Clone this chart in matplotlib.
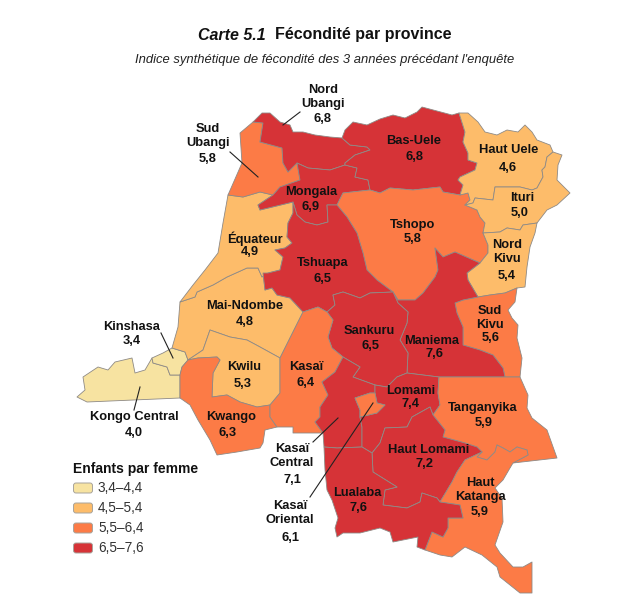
"""Carte 5.1: fecondite par province (RDC), provinces drawn as filled outlines."""

import matplotlib
matplotlib.use("Agg")
import matplotlib.pyplot as plt
from matplotlib.patches import FancyBboxPatch

plt.rcParams["font.family"] = ["Liberation Sans", "DejaVu Sans"]

# Fertility value per province
provinces = ["Kongo Central", "Kinshasa", "Mai-Ndombe", "Kwilu", "Kwango", "Équateur",
             "Sud Ubangi", "Nord Ubangi", "Mongala", "Bas-Uele", "Tshopo", "Tshuapa",
             "Haut Uele", "Ituri", "Nord Kivu", "Sud Kivu", "Maniema", "Sankuru",
             "Kasaï", "Kasaï Central", "Lomami", "Kasaï Oriental", "Tanganyika",
             "Haut Lomami", "Haut Katanga", "Lualaba"]
values = [4.0, 3.4, 4.8, 5.3, 6.3, 4.9,
          5.8, 6.8, 6.9, 6.8, 5.8, 6.5,
          4.6, 5.0, 5.4, 5.6, 7.6, 6.5,
          6.4, 7.1, 7.4, 6.1, 5.9,
          7.2, 5.9, 7.6]

# Legend classes
class_uppers = [4.4, 5.4, 6.4, 7.6]
class_labels = ["3,4–4,4", "4,5–5,4", "5,5–6,4", "6,5–7,6"]
class_colors = ["#F7E3A1", "#FDBC6A", "#FC7B46", "#D63337"]

# Province outlines, in image pixels
kongo_central = [(77, 397), (85, 390), (83, 377), (98, 367), (108, 370), (115, 362), (132, 358),
                 (135, 373), (145, 370), (152, 358), (153, 363), (167, 367), (170, 375), (180, 375),
                 (180, 398), (87, 402)]
kinshasa = [(152, 358), (163, 353), (172, 348), (185, 352), (188, 360), (182, 367), (180, 375),
            (170, 375), (167, 367), (153, 363)]
mai_ndombe = [(195, 297), (197, 292), (213, 285), (227, 277), (247, 268), (258, 268), (262, 277),
              (263, 273), (265, 290), (272, 288), (277, 295), (290, 298), (303, 312), (295, 328),
              (280, 358), (260, 347), (247, 340), (230, 337), (210, 330), (203, 350), (188, 360),
              (185, 352), (172, 348), (178, 327), (180, 302)]
kwilu = [(188, 360), (203, 350), (210, 330), (230, 337), (247, 340), (260, 347), (280, 358),
         (280, 393), (270, 405), (257, 407), (240, 402), (227, 395), (212, 397), (213, 373),
         (220, 360), (217, 357), (198, 358)]
kwango = [(180, 398), (180, 375), (182, 367), (188, 360), (198, 358), (217, 357), (220, 360),
          (213, 373), (212, 397), (227, 395), (240, 402), (257, 407), (270, 405), (270, 417),
          (277, 427), (265, 430), (263, 443), (260, 448), (237, 452), (217, 455), (210, 440),
          (198, 420), (190, 405)]
equateur = [(228, 195), (243, 197), (260, 192), (273, 195), (258, 205), (260, 210), (293, 202),
            (293, 213), (288, 223), (287, 237), (292, 243), (285, 248), (275, 250), (283, 257),
            (280, 270), (268, 273), (262, 277), (258, 268), (247, 268), (227, 277), (213, 285),
            (197, 292), (195, 297), (180, 302), (193, 285), (205, 270), (218, 253), (223, 223)]
sud_ubangi = [(253, 122), (263, 123), (260, 142), (282, 148), (283, 163), (288, 172), (297, 163),
              (300, 180), (280, 187), (273, 195), (260, 192), (243, 197), (228, 195), (242, 163),
              (240, 133)]
nord_ubangi = [(253, 122), (262, 113), (270, 113), (280, 122), (290, 125), (293, 132), (303, 132),
               (315, 135), (330, 137), (342, 138), (350, 145), (367, 147), (370, 150), (355, 155),
               (345, 163), (345, 165), (330, 170), (308, 168), (297, 163), (288, 172), (283, 163),
               (282, 148), (260, 142), (263, 123)]
mongala = [(273, 195), (280, 187), (300, 180), (297, 163), (308, 168), (330, 170), (345, 165),
           (357, 168), (355, 177), (368, 180), (370, 190), (343, 193), (337, 205), (327, 205),
           (328, 222), (317, 225), (305, 222), (297, 215), (293, 202), (260, 210), (258, 205)]
bas_uele = [(342, 138), (345, 130), (353, 122), (367, 125), (380, 119), (393, 115), (405, 118),
            (417, 112), (422, 107), (437, 111), (452, 115), (459, 113), (465, 132), (463, 142),
            (468, 153), (468, 160), (477, 163), (475, 170), (460, 177), (458, 180), (463, 185),
            (460, 195), (443, 192), (440, 187), (413, 190), (390, 188), (380, 193), (370, 190),
            (368, 180), (355, 177), (357, 168), (345, 165), (345, 163), (355, 155), (370, 150),
            (367, 147), (350, 145)]
tshopo = [(343, 193), (370, 190), (380, 193), (390, 188), (413, 190), (440, 187), (443, 192),
          (460, 195), (468, 193), (470, 200), (465, 205), (477, 210), (480, 217), (485, 223),
          (483, 233), (488, 245), (488, 253), (480, 263), (455, 252), (443, 257), (435, 248),
          (438, 270), (435, 277), (423, 293), (415, 300), (398, 300), (393, 292), (377, 280),
          (367, 270), (363, 253), (357, 233), (347, 217), (337, 205)]
tshuapa = [(293, 202), (297, 215), (305, 222), (317, 225), (328, 222), (327, 205), (337, 205),
           (347, 217), (357, 233), (363, 253), (367, 270), (377, 280), (393, 292), (370, 293),
           (360, 298), (343, 292), (333, 295), (335, 305), (327, 312), (318, 307), (303, 312),
           (290, 298), (277, 295), (272, 288), (265, 290), (263, 273), (268, 273), (280, 270),
           (283, 257), (275, 250), (285, 248), (292, 243), (287, 237), (288, 223), (293, 213)]
haut_uele = [(459, 113), (468, 113), (478, 122), (485, 132), (497, 135), (507, 130), (518, 132),
             (525, 125), (532, 132), (537, 140), (550, 145), (553, 152), (547, 157), (545, 167),
             (542, 170), (543, 177), (537, 188), (532, 190), (520, 187), (495, 187), (493, 200),
             (475, 198), (473, 203), (465, 205), (470, 200), (468, 193), (460, 195), (463, 185),
             (458, 180), (460, 177), (475, 170), (477, 163), (468, 160), (468, 153), (463, 142),
             (465, 132)]
ituri = [(553, 152), (562, 155), (558, 165), (557, 180), (570, 193), (557, 205), (547, 210),
         (537, 223), (523, 225), (520, 230), (507, 228), (500, 232), (483, 233), (485, 223),
         (480, 217), (477, 210), (465, 205), (473, 203), (475, 198), (493, 200), (495, 187),
         (520, 187), (532, 190), (537, 188), (543, 177), (542, 170), (545, 167), (547, 157)]
nord_kivu = [(483, 233), (500, 232), (507, 228), (520, 230), (523, 225), (537, 223), (535, 233),
             (530, 247), (527, 267), (525, 287), (517, 288), (505, 293), (490, 295), (478, 297),
             (468, 280), (467, 273), (480, 263), (488, 253), (488, 245)]
sud_kivu = [(478, 297), (490, 295), (505, 293), (517, 288), (515, 302), (508, 310), (512, 318),
            (518, 325), (517, 338), (522, 358), (520, 377), (505, 377), (503, 368), (493, 355),
            (480, 350), (463, 345), (463, 327), (457, 313), (455, 303), (463, 300)]
maniema = [(393, 292), (398, 300), (415, 300), (423, 293), (435, 277), (438, 270), (435, 248),
           (443, 257), (455, 252), (480, 263), (467, 273), (468, 280), (478, 297), (463, 300),
           (455, 303), (457, 313), (463, 327), (463, 345), (480, 350), (493, 355), (503, 368),
           (505, 377), (439, 377), (407, 373), (408, 353), (400, 340), (407, 323), (408, 312),
           (398, 303)]
sankuru = [(333, 295), (343, 292), (360, 298), (370, 293), (393, 292), (398, 303), (408, 312),
           (407, 323), (400, 340), (408, 353), (407, 373), (397, 377), (387, 387), (375, 385),
           (353, 377), (360, 367), (343, 357), (332, 348), (328, 337), (333, 320), (327, 312),
           (335, 305)]
kasai = [(280, 358), (295, 328), (303, 312), (318, 307), (327, 312), (333, 320), (328, 337),
         (332, 348), (343, 357), (335, 372), (322, 382), (328, 395), (320, 407), (320, 417),
         (315, 422), (323, 433), (293, 433), (293, 427), (277, 427), (270, 417), (270, 405),
         (280, 393)]
kasai_central = [(323, 433), (315, 422), (320, 417), (320, 407), (328, 395), (322, 382), (335, 372),
                 (343, 357), (360, 367), (353, 377), (375, 385), (375, 393), (370, 393), (355, 398),
                 (360, 410), (360, 417), (362, 427), (362, 447), (337, 448), (324, 447)]
lomami = [(375, 385), (387, 387), (397, 377), (407, 373), (439, 377), (438, 393), (440, 405),
          (433, 415), (430, 407), (412, 417), (407, 427), (385, 428), (380, 443), (372, 453),
          (362, 447), (362, 427), (360, 417), (377, 413), (385, 405), (377, 403), (375, 393)]
kasai_oriental = [(355, 398), (370, 393), (375, 393), (377, 403), (385, 405), (377, 413), (360, 417),
                  (360, 410)]
tanganyika = [(439, 377), (505, 377), (520, 377), (528, 395), (527, 408), (532, 418), (547, 430),
              (557, 458), (513, 463), (528, 455), (527, 450), (517, 447), (510, 452), (503, 448),
              (497, 445), (495, 452), (487, 460), (477, 457), (482, 452), (477, 447), (465, 443),
              (443, 437), (445, 430), (433, 415), (440, 405), (438, 393)]
haut_lomami = [(385, 428), (407, 427), (412, 417), (430, 407), (433, 415), (445, 430), (443, 437),
               (465, 443), (477, 447), (482, 452), (465, 460), (457, 472), (452, 482), (440, 502),
               (437, 498), (422, 493), (420, 502), (407, 508), (383, 505), (385, 490), (397, 487),
               (373, 472), (372, 453), (380, 443)]
haut_katanga = [(482, 452), (477, 457), (487, 460), (495, 452), (497, 445), (503, 448), (510, 452),
                (517, 447), (527, 450), (528, 455), (513, 463), (510, 468), (503, 480), (495, 488),
                (502, 498), (503, 522), (495, 545), (500, 553), (513, 567), (523, 567), (532, 562),
                (532, 593), (520, 593), (500, 577), (497, 567), (482, 555), (465, 547), (452, 557),
                (440, 555), (425, 550), (432, 532), (443, 537), (448, 528), (448, 518), (463, 518),
                (460, 505), (440, 502), (452, 482), (457, 472), (465, 460)]
lualaba = [(324, 447), (337, 448), (362, 447), (372, 453), (373, 472), (397, 487), (385, 490),
           (383, 505), (407, 508), (420, 502), (422, 493), (437, 498), (440, 502), (460, 505),
           (463, 518), (448, 518), (448, 528), (443, 537), (432, 532), (425, 550), (417, 547),
           (418, 537), (393, 542), (390, 532), (380, 528), (360, 533), (343, 533), (337, 537),
           (335, 528), (338, 518), (332, 500), (327, 490), (325, 470)]

outlines = [kongo_central, kinshasa, mai_ndombe, kwilu, kwango, equateur,
            sud_ubangi, nord_ubangi, mongala, bas_uele, tshopo, tshuapa,
            haut_uele, ituri, nord_kivu, sud_kivu, maniema, sankuru,
            kasai, kasai_central, lomami, kasai_oriental, tanganyika,
            haut_lomami, haut_katanga, lualaba]

# Map labels: name block and value line are placed apart, spacing varies on the map
label_names = ["Nord\nUbangi", "Sud\nUbangi", "Bas-Uele", "Haut Uele", "Ituri", "Nord\nKivu",
               "Mongala", "Tshopo", "Équateur", "Tshuapa", "Mai-Ndombe", "Kinshasa", "Kwilu",
               "Kasaï", "Sankuru", "Maniema", "Sud\nKivu", "Lomami", "Tanganyika", "Kwango",
               "Kongo Central", "Kasaï\nCentral", "Haut Lomami", "Haut\nKatanga", "Lualaba",
               "Kasaï\nOriental"]
label_values = ["6,8", "5,8", "6,8", "4,6", "5,0", "5,4", "6,9", "5,8", "4,9", "6,5", "4,8", "3,4",
                "5,3", "6,4", "6,5", "7,6", "5,6", "7,4", "5,9", "6,3", "4,0", "7,1", "7,2", "5,9",
                "7,6", "6,1"]
name_x = [323, 208, 414, 509, 522, 507, 311, 413, 255, 323, 245, 132, 244, 306,
          369, 432, 490, 411, 483, 231, 134, 292, 429, 480, 357, 290]
name_y = [97, 136, 141, 150, 198, 252, 192, 225, 239, 263, 306, 327, 367, 367,
          331, 341, 318, 391, 408, 417, 417, 456, 450, 490, 493, 513]
value_x = [323, 208, 414, 508, 520, 507, 311, 413, 250, 323, 245, 132, 243, 306,
           370, 434, 491, 411, 484, 228, 134, 292, 425, 480, 359, 290]
value_y = [119, 159, 157, 168, 213, 276, 207, 239, 252, 279, 322, 341, 384, 383,
           346, 354, 338, 404, 423, 433, 433, 480, 464, 512, 508, 538]

leader_lines = [((300, 112), (283, 125)), ((230, 152), (258, 177)), ((161, 333), (173, 358)),
                ((140, 387), (134, 410)), ((338, 418), (313, 442)), ((373, 403), (310, 497))]


def class_color(value):
    for upper, color in zip(class_uppers, class_colors):
        if value <= upper:
            return color
    return class_colors[-1]


fig = plt.figure(figsize=(6.35, 6.11), dpi=100)
ax = fig.add_axes([0, 0, 1, 1])
ax.set_xlim(0, 635)
ax.set_ylim(611, 0)
ax.axis("off")

for value, outline in zip(values, outlines):
    xs, ys = zip(*outline)
    ax.fill(xs, ys, facecolor=class_color(value), edgecolor="#8E8A86", linewidth=0.6,
            joinstyle="round", zorder=2)

for start, end in leader_lines:
    ax.plot([start[0], end[0]], [start[1], end[1]], color="#222222", linewidth=0.8, zorder=3)

for name, x, y in zip(label_names, name_x, name_y):
    ax.text(x, y, name, ha="center", va="center", fontsize=9.3, fontweight="bold",
            color="#111111", linespacing=1.2, zorder=4)
for text, x, y in zip(label_values, value_x, value_y):
    ax.text(x, y, text, ha="center", va="center", fontsize=9.3, fontweight="bold",
            color="#111111", zorder=4)

# Title and subtitle
ax.text(198, 35, "Carte 5.1", fontsize=11.5, fontstyle="italic", fontweight="bold",
        ha="left", va="center", color="#111111")
ax.text(275, 35, "Fécondité par province", fontsize=11.5, fontweight="bold",
        ha="left", va="center", color="#111111")
ax.text(324.5, 60, "Indice synthétique de fécondité des 3 années précédant l'enquête",
        fontsize=9.4, fontstyle="italic", ha="center", va="center", color="#222222")

# Legend
ax.text(73, 469, "Enfants par femme", fontsize=10, fontweight="bold", ha="left", va="center",
        color="#111111")
for i, (label, color) in enumerate(zip(class_labels, class_colors)):
    y = 488 + i * 20
    ax.add_patch(FancyBboxPatch((75, y - 3.5), 16, 7, boxstyle="round,pad=1.5,rounding_size=2.5",
                                facecolor=color, edgecolor="#A8A49C", linewidth=0.7))
    ax.text(98, y, label, fontsize=9.8, ha="left", va="center", color="#333333")

fig.savefig("out.png", dpi=100, facecolor="white")
